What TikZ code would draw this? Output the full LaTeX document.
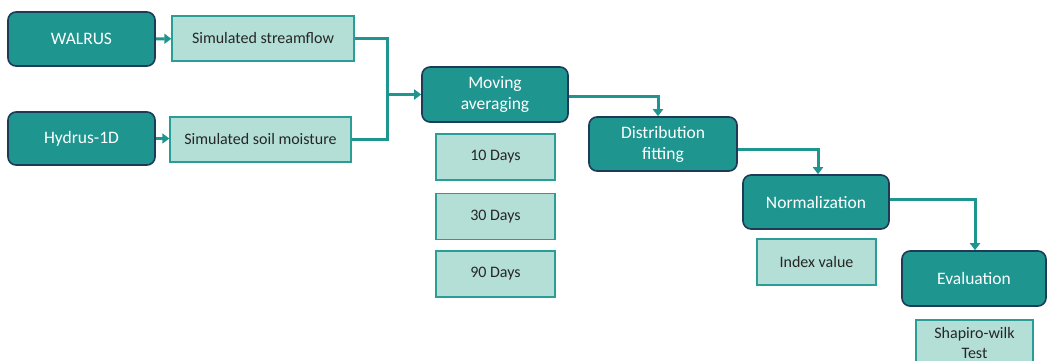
\documentclass[tikz,border=0pt]{standalone}
\usepackage{fontspec}
\setmainfont{Carlito}
\usetikzlibrary{arrows.meta}

\definecolor{tealdark}{HTML}{1E958F}
\definecolor{navyline}{HTML}{1F3A56}
\definecolor{teallight}{HTML}{B3DFD6}
\definecolor{tealline}{HTML}{2A9D96}

\begin{document}
\begin{tikzpicture}[x=1pt,y=-1pt,
    step box/.style={draw=navyline,line width=1.6pt,fill=tealdark,rounded corners=8pt,
      text=white,font=\fontsize{17.5}{21}\selectfont,align=center,inner sep=0pt},
    data box/.style={draw=tealline,line width=1.4pt,fill=teallight,
      text=black!85,font=\fontsize{16}{20}\selectfont,align=center,inner sep=0pt},
    flow/.style={draw=tealdark,line width=3pt},
    flow arrow/.style={flow,-{Triangle[length=7pt,width=10pt]}}]

      \useasboundingbox (0,0) rectangle (1047,361);

      % models and their outputs
      \node[step box,minimum width=147pt,minimum height=54pt] (walrus) at (81.5,39) {WALRUS};
      \node[data box,minimum width=182pt,minimum height=45pt] (stream) at (263,38.5) {Simulated streamflow};
      \node[step box,minimum width=147pt,minimum height=53pt] (hydrus) at (81.5,138.5) {Hydrus-1D};
      \node[data box,minimum width=181pt,minimum height=45pt] (soil) at (260.5,139.5) {Simulated soil moisture};

      % processing steps
      \node[step box,minimum width=146pt,minimum height=55pt] (moving) at (495,94.5) {Moving\\averaging};
      \node[step box,minimum width=148pt,minimum height=54pt] (dist) at (663,144) {Distribution\\fitting};
      \node[step box,minimum width=146pt,minimum height=54pt] (norm) at (816,202) {Normalization};
      \node[step box,minimum width=144pt,minimum height=55pt] (eval) at (974,278.5) {Evaluation};

      % windows
      \foreach \d/\y in {10/157,30/216.5,90/274}
      \node[data box,minimum width=119pt,minimum height=46pt] (days\d) at (495.5,\y) {\d{} Days};

      \node[data box,minimum width=119pt,minimum height=46pt] (index) at (816.5,262) {Index value};
      \node[data box,minimum width=117pt,minimum height=46pt] (shapiro) at (974.5,343) {Shapiro-wilk\\Test};

      % connectors
      \coordinate (merge) at (387,94.5);
      \draw[flow arrow] (walrus) -- (stream);
      \draw[flow arrow] (hydrus) -- (hydrus -| soil.west);
      \draw[flow] (stream.east) -| (merge);
      \draw[flow] (soil.east) -| (merge);
      \draw[flow arrow] (merge) -- (moving.west);
      \draw[flow arrow] ([yshift=-1.5pt]moving.east) -| ([xshift=-5pt]dist.north);
      \draw[flow arrow] ([yshift=-5pt]dist.east) -| ([xshift=2pt]norm.north);
      \draw[flow arrow] ([yshift=3pt]norm.east) -| ([xshift=1pt]eval.north);

\end{tikzpicture}
\end{document}
